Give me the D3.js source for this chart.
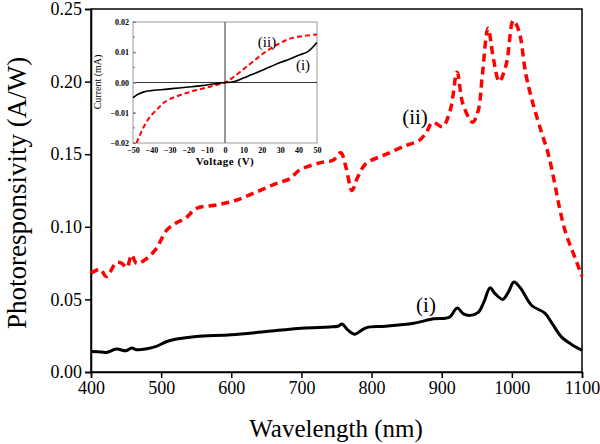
<!DOCTYPE html>
<html><head><meta charset="utf-8">
<script src="https://cdn.jsdelivr.net/npm/d3@7/dist/d3.min.js"></script>
<style>body{margin:0;background:#fff}svg{display:block}</style>
</head><body>
<svg id="c" width="600" height="444"></svg>
<script>
// Main chart data: wavelength (nm) vs photoresponsivity (A/W)
const wlII = [400,413,422,436,444,451,458,465,479,493,508,522,535,550,579,607,636,664,683,697,726,745,756,764,772,780,792,821,849,868,878,887,901,912,922,930,944,952,958,966,974,982,992,1002,1010,1020,1030,1043,1052,1061,1068,1076,1085,1093,1100];
const valII = [0.068,0.0707,0.0657,0.0753,0.0748,0.072,0.0806,0.0748,0.078,0.085,0.0977,0.1028,0.106,0.1126,0.115,0.1183,0.124,0.1298,0.133,0.139,0.144,0.1458,0.151,0.140,0.125,0.134,0.1435,0.150,0.156,0.1595,0.165,0.172,0.169,0.180,0.2065,0.185,0.172,0.180,0.205,0.2367,0.215,0.200,0.212,0.242,0.235,0.205,0.185,0.164,0.150,0.130,0.113,0.097,0.085,0.075,0.066];
const wlI = [400,410,422,436,450,458,465,480,493,508,522,550,600,650,700,740,752,758,766,776,785,793,820,860,889,905,912,922,931,941,952,960,969,976,987,995,1003,1012,1028,1047,1058,1071,1085,1100];
const valI = [0.0141,0.0140,0.0135,0.0158,0.0146,0.0165,0.0153,0.0160,0.0176,0.021,0.0227,0.0245,0.0256,0.0279,0.0302,0.031,0.0315,0.0330,0.029,0.026,0.0285,0.0306,0.0315,0.0336,0.0366,0.037,0.038,0.044,0.040,0.039,0.041,0.048,0.058,0.054,0.050,0.055,0.062,0.058,0.046,0.0405,0.033,0.024,0.019,0.015];
const xTicks = [400,500,600,700,800,900,1000,1100];
const yTicks = [0.00,0.05,0.10,0.15,0.20,0.25];

// Inset data: voltage (V) vs current (mA)
const vI = [-50,-47,-44,-40,-35,-30,-25,-20,-15,-10,-5,0,3,6,10,15,20,25,30,35,40,45,50];
const iI = [-0.0050,-0.0038,-0.0031,-0.0027,-0.0024,-0.0021,-0.0018,-0.0015,-0.0012,-0.0008,-0.0004,0,0.0001,0.0005,0.0015,0.0027,0.0040,0.0053,0.0066,0.0077,0.0090,0.0102,0.0132];
const vII = [-48.1,-46.5,-44.6,-42,-39.1,-36,-33.7,-30,-24.6,-20,-15.4,-10,-6.4,-3,0,4,8.2,12.5,17.2,21.5,26.3,30.5,35.3,42,50];
const iII = [-0.0200,-0.0178,-0.0152,-0.0124,-0.0102,-0.0083,-0.0069,-0.0055,-0.0042,-0.0033,-0.0025,-0.0017,-0.0011,-0.0005,0,0.0015,0.0035,0.0056,0.0079,0.0099,0.0118,0.0132,0.0145,0.0153,0.0159];
const insetXTicks = [-50,-40,-30,-20,-10,0,10,20,30,40,50];
const insetYTicks = [0.02,0.01,0.00,-0.01,-0.02];

const svg = d3.select('#c');
const L = 91, R = 582, T = 9, B = 372;
const x = d3.scaleLinear().domain([400,1100]).range([L,R]);
const y = d3.scaleLinear().domain([0,0.25]).range([B,T]);
const serif = "'Liberation Serif','Times New Roman',serif";

// frame
svg.append('rect').attr('x',L).attr('y',T).attr('width',R-L).attr('height',B-T)
  .attr('fill','none').attr('stroke','#000').attr('stroke-width',1.5);

const gx = svg.append('g').attr('transform',`translate(0,${B})`)
  .call(d3.axisBottom(x).tickValues(xTicks).tickSize(6).tickPadding(3).tickFormat(d3.format('d')));
const gy = svg.append('g').attr('transform',`translate(${L},0)`)
  .call(d3.axisLeft(y).tickValues(yTicks).tickSize(6).tickPadding(3).tickFormat(d3.format('.2f')));
[gx,gy].forEach(g=>{
  g.select('.domain').attr('stroke','#000').attr('stroke-width',1.5);
  g.selectAll('.tick line').attr('stroke','#000').attr('stroke-width',1.5);
  g.selectAll('.tick text').attr('font-family',serif).attr('font-size',18).attr('fill','#000');
});

svg.append('text').attr('x',336).attr('y',437).attr('text-anchor','middle')
  .attr('font-family',serif).attr('font-size',25).text('Wavelength (nm)');
svg.append('text').attr('transform','translate(26,193) rotate(-90)').attr('text-anchor','middle')
  .attr('font-family',serif).attr('font-size',27).text('Photoresponsivity (A/W)');

const line = d3.line().x(d=>x(d[0])).y(d=>y(d[1])).curve(d3.curveCatmullRom.alpha(0.5));
svg.append('path').datum(wlII.map((w,i)=>[w,valII[i]])).attr('d',line)
  .attr('fill','none').attr('stroke','#ff0000').attr('stroke-width',3.5).attr('stroke-dasharray','8,5');
svg.append('path').datum(wlI.map((w,i)=>[w,valI[i]])).attr('d',line)
  .attr('fill','none').attr('stroke','#000').attr('stroke-width',3);

svg.append('text').attr('x',415).attr('y',124).attr('text-anchor','middle')
  .attr('font-family',serif).attr('font-size',21).text('(ii)');
svg.append('text').attr('x',426).attr('y',312).attr('text-anchor','middle')
  .attr('font-family',serif).attr('font-size',21).text('(i)');

// inset
const iL = 133, iR = 317, iT = 22, iB = 143;
const ix = d3.scaleLinear().domain([-50,50]).range([iL,iR]);
const iy = d3.scaleLinear().domain([-0.02,0.02]).range([iB,iT]);
const ins = svg.append('g');
ins.append('rect').attr('x',iL).attr('y',iT).attr('width',iR-iL).attr('height',iB-iT)
  .attr('fill','#fff').attr('stroke','#999').attr('stroke-width',1);
ins.append('line').attr('x1',ix(0)).attr('x2',ix(0)).attr('y1',iT).attr('y2',iB).attr('stroke','#333').attr('stroke-width',1);
ins.append('line').attr('x1',iL).attr('x2',iR).attr('y1',iy(0)).attr('y2',iy(0)).attr('stroke','#333').attr('stroke-width',1);
const igx = ins.append('g').attr('transform',`translate(0,${iB})`)
  .call(d3.axisBottom(ix).tickValues(insetXTicks).tickSize(0).tickPadding(4).tickFormat(d3.format('d')));
const igy = ins.append('g').attr('transform',`translate(${iL},0)`)
  .call(d3.axisLeft(iy).tickValues(insetYTicks).tickSize(-3).tickPadding(4).tickFormat(d3.format('.2f')));
const minor = d3.range(-0.02,0.0201,0.005);
ins.selectAll('.mt').data(minor).join('line').attr('x1',iL).attr('x2',iL+2)
  .attr('y1',d=>iy(d)).attr('y2',d=>iy(d)).attr('stroke','#777');
[igx,igy].forEach(g=>{
  g.select('.domain').remove();
  g.selectAll('.tick line').attr('stroke','#777');
  g.selectAll('.tick text').attr('font-family',serif).attr('font-size',8).attr('font-weight','bold').attr('fill','#000');
});
ins.append('text').attr('x',225).attr('y',165).attr('text-anchor','middle')
  .attr('font-family',serif).attr('font-size',11).attr('font-weight','bold').attr('letter-spacing',0.5).text('Voltage (V)');
ins.append('text').attr('transform','translate(101,82) rotate(-90)').attr('text-anchor','middle')
  .attr('font-family',serif).attr('font-size',10).text('Current (mA)');

const iline = d3.line().x(d=>ix(d[0])).y(d=>iy(d[1])).curve(d3.curveCatmullRom.alpha(0.5));
ins.append('path').datum(vII.map((v,i)=>[v,iII[i]])).attr('d',iline)
  .attr('fill','none').attr('stroke','#ff0000').attr('stroke-width',2).attr('stroke-dasharray','5,3');
ins.append('path').datum(vI.map((v,i)=>[v,iI[i]])).attr('d',iline)
  .attr('fill','none').attr('stroke','#000').attr('stroke-width',1.6);
ins.append('text').attr('x',267).attr('y',47).attr('text-anchor','middle')
  .attr('font-family',serif).attr('font-size',15).text('(ii)');
ins.append('text').attr('x',303).attr('y',70).attr('text-anchor','middle')
  .attr('font-family',serif).attr('font-size',15).text('(i)');
</script>
</body></html>
